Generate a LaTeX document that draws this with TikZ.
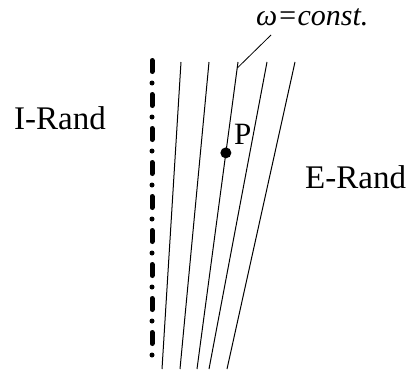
\documentclass[tikz,border=0pt]{standalone}
\usepackage{fontspec}
\setmainfont{Liberation Serif}
\usetikzlibrary{calc}

\begin{document}
\begin{tikzpicture}[
  x=1pt, y=-1pt,
  lab/.style={inner sep=0pt, anchor=base west, font=\fontsize{33}{36}\selectfont},
  flow/.style={line width=1pt, draw=black},
  axis/.style={line width=5pt, line cap=round, dash pattern=on 11pt off 11.5pt on 0pt off 11.5pt},
  ]
\useasboundingbox (0,0) rectangle (411,369);

% stream lines
\foreach \i/\xt/\xb in {1/181/162, 2/209/180, 3/238/197, 4/267/209, 5/295/227} {
  \coordinate (t\i) at (\xt,62);
  \coordinate (b\i) at (\xb,369);
  \draw[flow] (t\i) -- (b\i);
}

% inner edge
\coordinate (axtop) at (152,60.5);
\coordinate (axbot) at (152,357);
\draw[axis] (axtop) -- (axbot);

\node[lab] (irand) at (14,129) {I-Rand};
\node[lab] (erand) at (305,188) {E-Rand};

% point P on the middle line
\coordinate (P) at ($(t3)!0.296!(b3)$);
\fill (P) circle (5.5pt);
\node[lab, font=\fontsize{31}{34}\selectfont] (plab) at (234,144) {P};

% label omega
\node[lab, font=\fontsize{30}{33}\itshape\selectfont] (omega) at (256,26) {ω=const.};
\coordinate (lead) at (271,35);
\draw[flow, line width=0.8pt] (lead) -- ($(t3)!0.02!(b3)$);
\end{tikzpicture}
\end{document}
